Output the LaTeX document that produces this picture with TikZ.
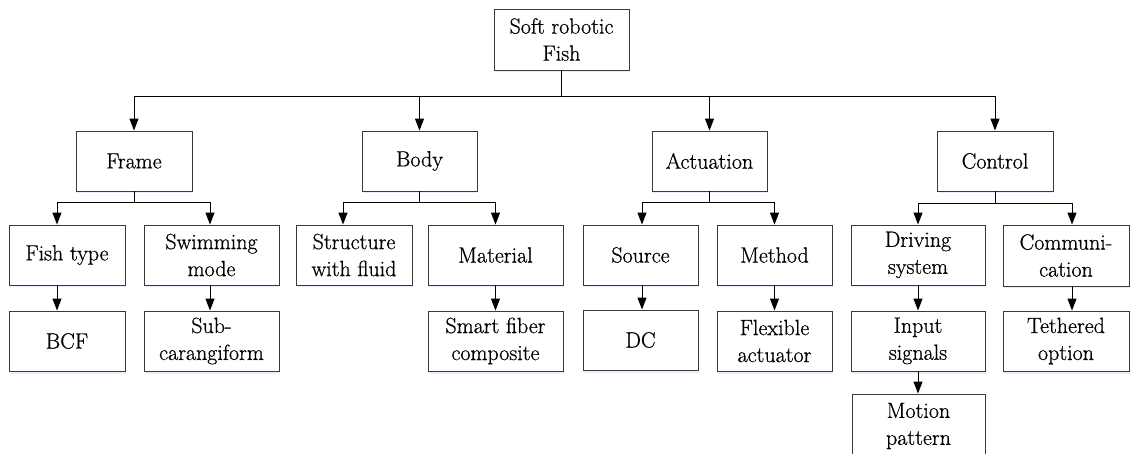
\documentclass[tikz,border=0pt]{standalone}
\usepackage{fontspec}
\newfontfamily\boxfont{Latin Modern Roman}[FakeBold=0.7]
\usetikzlibrary{arrows.meta,shadows}
\definecolor{boxline}{HTML}{3A3A3A}
\tikzset{
  box/.style={draw=boxline, line width=0.9pt, fill=white, align=center, inner sep=0pt,
    font=\boxfont\fontsize{22}{27}\selectfont,
    drop shadow={shadow xshift=1pt, shadow yshift=-2.5pt, fill=blue!25, opacity=0.3}},
  conn/.style={draw=black, line width=1pt},
  arr/.style={conn, -{Triangle[length=12pt,width=9pt]}}
}
\begin{document}
\begin{tikzpicture}[x=1pt,y=-1pt]
\useasboundingbox (0,0) rectangle (1130,454);
\clip (0,0) rectangle (1130,454);
% root
\node[box, minimum width=135pt, minimum height=61pt] (root) at (561.5,39.5) {Soft robotic\\Fish};
% first level
\node[box, minimum width=116pt, minimum height=60pt] (frame) at (134,161) {Frame};
\node[box, minimum width=115pt, minimum height=60pt] (body) at (419.5,161) {Body};
\node[box, minimum width=115pt, minimum height=60pt] (actuation) at (709.5,161) {Actuation};
\node[box, minimum width=116pt, minimum height=60pt] (control) at (995,161) {Control};
% second level
\node[box, minimum width=116pt, minimum height=60pt] (fishtype) at (67,255) {Fish type};
\node[box, minimum width=135pt, minimum height=60pt] (swimming) at (211.5,255) {Swimming\\mode};
\node[box, minimum width=116pt, minimum height=60pt] (structure) at (354,255) {Structure\\with fluid};
\node[box, minimum width=135pt, minimum height=60pt] (material) at (495.5,255) {Material};
\node[box, minimum width=115pt, minimum height=60pt] (source) at (640.5,255) {Source};
\node[box, minimum width=115pt, minimum height=60pt] (method) at (774.5,255) {Method};
\node[box, minimum width=134pt, minimum height=60pt] (driving) at (918,255) {Driving\\system};
\node[box, minimum width=126pt, minimum height=61pt] (comm) at (1066,255.5) {Communi-\\cation};
% third level
\node[box, minimum width=116pt, minimum height=60pt] (bcf) at (67,341) {BCF};
\node[box, minimum width=135pt, minimum height=60pt] (subcar) at (211.5,341) {Sub-\\carangiform};
\node[box, minimum width=135pt, minimum height=60pt] (smart) at (495.5,341) {Smart fiber\\composite};
\node[box, minimum width=115pt, minimum height=60pt] (dc) at (640.5,340) {DC};
\node[box, minimum width=115pt, minimum height=60pt] (flex) at (774.5,341) {Flexible\\actuator};
\node[box, minimum width=134pt, minimum height=60pt] (input) at (918,341) {Input\\signals};
\node[box, minimum width=126pt, minimum height=60pt] (tether) at (1066,341) {Tethered\\option};
% fourth level
\node[box, minimum width=133pt, minimum height=64pt] (motion) at (918.5,426) {Motion\\pattern};

% root to first level
\draw[arr] (root.south) -- ++(0,26) -| (frame.north);
\draw[arr] (root.south) -- ++(0,26) -| (body.north);
\draw[arr] (root.south) -- ++(0,26) -| (actuation.north);
\draw[arr] (root.south) -- ++(0,26) -| (control.north);
% frame branch
\draw[arr] (frame.south) -- ++(0,11) -| ([xshift=-10pt]fishtype.north);
\draw[arr] (frame.south) -- ++(0,11) -| ([xshift=-1.5pt]swimming.north);
\draw[arr] ([xshift=-10pt]fishtype.south) -- ([xshift=-10pt]bcf.north);
\draw[arr] ([xshift=-1.5pt]swimming.south) -- ([xshift=-1.5pt]subcar.north);
% body branch
\draw[arr] (body.south) -- ++(0,11) -| ([xshift=-11pt]structure.north);
\draw[arr] (body.south) -- ++(0,11) -| (material.north);
\draw[arr] (material.south) -- (smart.north);
% actuation branch
\draw[arr] (actuation.south) -- ++(0,11) -| ([xshift=1.5pt]source.north);
\draw[arr] (actuation.south) -- ++(0,11) -| (method.north);
\draw[arr] ([xshift=1.5pt]source.south) -- ([xshift=1.5pt]dc.north);
\draw[arr] (method.south) -- (flex.north);
% control branch
\draw[arr] (control.south) -- ++(0,12) -| (driving.north);
\draw[arr] (control.south) -- ++(0,12) -| ([xshift=6pt]comm.north);
\draw[arr] (driving.south) -- (input.north);
\draw[arr] (input.south) -- ([xshift=-0.5pt]motion.north);
\draw[arr] ([xshift=6pt]comm.south) -- ([xshift=6pt]tether.north);
\end{tikzpicture}
\end{document}
